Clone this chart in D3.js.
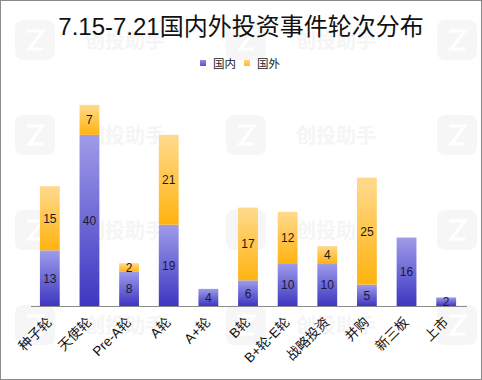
<!DOCTYPE html>
<html><head><meta charset="utf-8">
<script src="https://cdn.jsdelivr.net/npm/d3@7"></script>
<style>
html,body{margin:0;padding:0;background:#fff;}
svg{display:block;font-family:"Liberation Sans","Noto Sans CJK SC",sans-serif;}
</style></head>
<body>
<svg id="chart" width="482" height="380"></svg>
<script>
const categories = ["种子轮","天使轮","Pre-A轮","A轮","A+轮","B轮","B+轮-E轮","战略投资","并购","新三板","上市"];
const domestic = [13,40,8,19,4,6,10,10,5,16,2];
const foreign  = [15,7,2,21,0,17,12,4,25,0,0];
const seriesNames = ["国内","国外"];
const title = "7.15-7.21国内外投资事件轮次分布";

const W = 482, H = 380;
const svg = d3.select("#chart");
const defs = svg.append("defs");

function grad(id, top, bottom){
  const g = defs.append("linearGradient").attr("id", id).attr("x1",0).attr("y1",0).attr("x2",0).attr("y2",1);
  g.append("stop").attr("offset","0%").attr("stop-color",top);
  g.append("stop").attr("offset","100%").attr("stop-color",bottom);
}
grad("gDom", "#9f9ce9", "#3d36c2");
grad("gFor", "#ffda8e", "#ffb30f");
grad("gDomL", "#8f8ce6", "#5a55cf");
grad("gForL", "#ffd27a", "#ffbb33");

svg.append("rect").attr("x",0).attr("y",0).attr("width",W).attr("height",H).attr("fill","#fff");

// faint watermarks
const wm = svg.append("g").attr("class","watermark");
const wmRows = [20,115,210,305];
const wmCols = [15,226,437];
wmRows.forEach(y=>{
  wmCols.forEach((x,ci)=>{
    wm.append("rect").attr("x",x).attr("y",y).attr("width",40).attr("height",40).attr("rx",8).attr("fill","#f6f6f6");
    wm.append("path").attr("d",`M${x+12},${y+11} L${x+28},${y+11} L${x+14},${y+29} L${x+28},${y+29}`)
      .attr("fill","none").attr("stroke","#ffffff").attr("stroke-width",3);
    if(ci<2){
      wm.append("text").attr("x",x+70).attr("y",y+28).attr("font-size",20).attr("font-weight","bold")
        .attr("fill","#f5f5f5").attr("font-family","Noto Sans CJK SC").text("创投助手");
    }
  });
});

// title
svg.append("text").attr("x",W/2).attr("y",35).attr("text-anchor","middle")
  .attr("font-size",24).attr("fill","#111").text(title);

// legend
const leg = svg.append("g");
const legItems = [{name:seriesNames[0], fill:"url(#gDomL)", x:200},{name:seriesNames[1], fill:"url(#gForL)", x:244}];
legItems.forEach(d=>{
  leg.append("rect").attr("x",d.x).attr("y",60).attr("width",6).attr("height",6).attr("fill",d.fill);
  leg.append("text").attr("x",d.x+13).attr("y",67.5).attr("font-size",11.5).attr("fill","#222")
    .attr("font-family","Noto Sans CJK SC").text(d.name);
});

const x = d3.scaleBand().domain(categories).range([30,466]).paddingInner(0.5).paddingOuter(0.25);
const y = d3.scaleLinear().domain([0,50]).range([306,92]);

const data = categories.map((c,i)=>({cat:c, dom:domestic[i], for:foreign[i]}));

const bars = svg.append("g");
data.forEach(d=>{
  const bx = x(d.cat), bw = x.bandwidth();
  if(d.dom>0){
    bars.append("rect").attr("x",bx).attr("y",y(d.dom)).attr("width",bw).attr("height",y(0)-y(d.dom)).attr("fill","url(#gDom)");
    bars.append("text").attr("x",bx+bw/2).attr("y",(y(d.dom)+y(0))/2+4.5).attr("text-anchor","middle")
      .attr("font-size",12).attr("fill","#1a1a33").text(d.dom);
  }
  if(d.for>0){
    bars.append("rect").attr("x",bx).attr("y",y(d.dom+d.for)).attr("width",bw).attr("height",y(d.dom)-y(d.dom+d.for)).attr("fill","url(#gFor)");
    bars.append("text").attr("x",bx+bw/2).attr("y",(y(d.dom+d.for)+y(d.dom))/2+4.5).attr("text-anchor","middle")
      .attr("font-size",12).attr("fill","#1a1a1a").text(d.for);
  }
});

// x axis
const xAxis = svg.append("g").attr("transform","translate(0,306)")
  .call(d3.axisBottom(x).tickSize(0).tickPadding(0));
xAxis.select(".domain").remove();
xAxis.append("line").attr("x1",31).attr("x2",467).attr("y1",0.5).attr("y2",0.5).attr("stroke","#8c8c8c").attr("stroke-width",1);
xAxis.selectAll(".tick text")
  .attr("font-size",13.5).attr("fill","#111").attr("font-family","Liberation Sans, Noto Sans CJK SC")
  .attr("text-anchor","end")
  .attr("dy",0)
  .attr("transform","translate(3,17) rotate(-45)");

// border
svg.append("rect").attr("x",0.5).attr("y",0.5).attr("width",W-1).attr("height",H-1)
  .attr("fill","none").attr("stroke","#8a8a8a").attr("stroke-width",1);
</script>
</body></html>
